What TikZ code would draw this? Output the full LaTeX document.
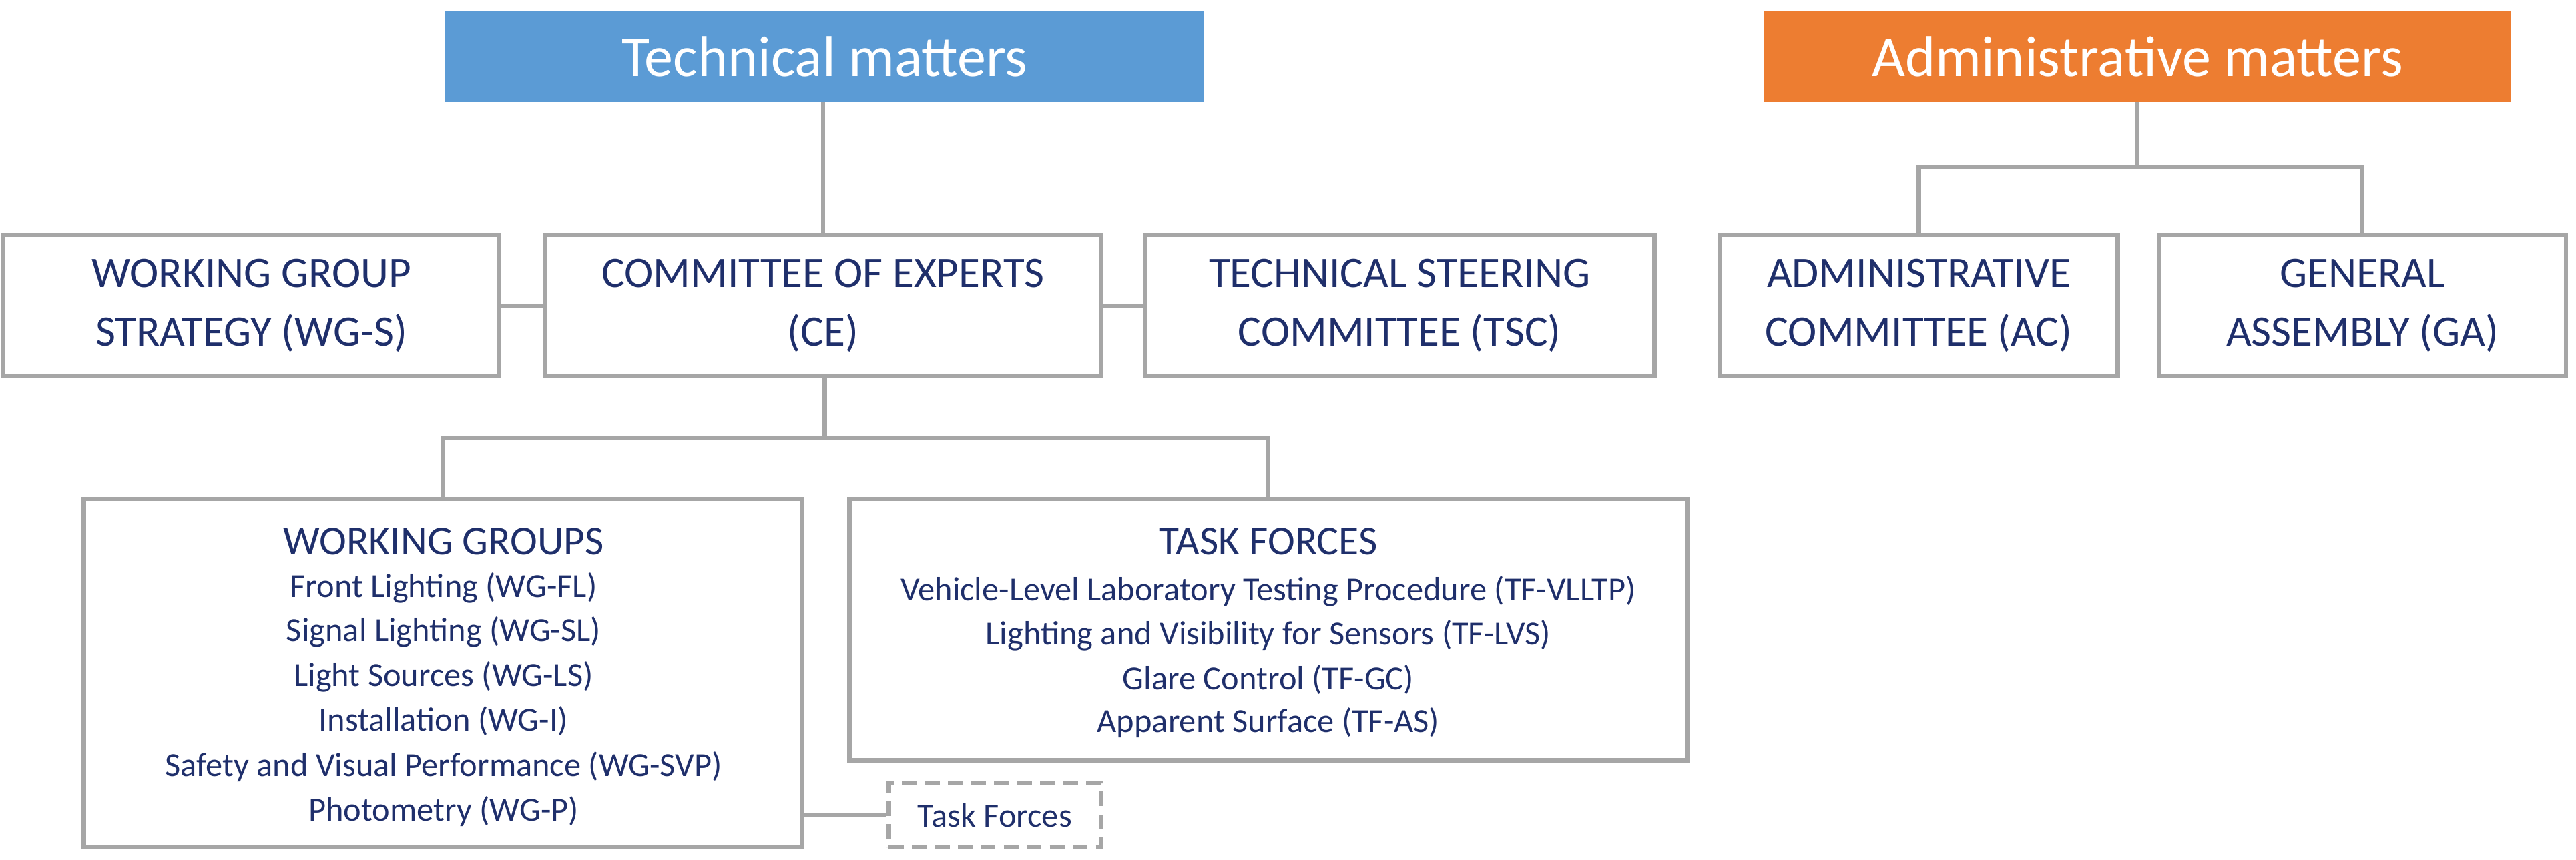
\documentclass[tikz,border=0pt]{standalone}
\usepackage{fontspec}
\setmainfont{Carlito}
\definecolor{navy}{HTML}{1F2F6B}
\definecolor{bx}{HTML}{A6A6A6}
\definecolor{tblue}{HTML}{5B9BD5}
\definecolor{torange}{HTML}{ED7D31}
\begin{document}
\begin{tikzpicture}[x=1pt,y=-1pt,
 box/.style={draw=bx,line width=2.6pt,inner sep=0pt,font=\fontsize{26.5}{36}\selectfont,text=navy,align=center},
 head/.style={inner sep=0pt,font=\fontsize{35}{40}\selectfont,text=white},
 conn/.style={draw=bx,line width=2.6pt},
 ln/.style={font=\fontsize{20.5}{22}\selectfont,text=navy,inner sep=0pt,anchor=center}]
\useasboundingbox (0,0) rectangle (1568,523.4);
\node[head,fill=tblue,minimum width=462pt,minimum height=55pt] (tech) at (502,34.5) {Technical matters};
\node[head,fill=torange,minimum width=454pt,minimum height=55pt] (adm) at (1301,34.5) {Administrative matters};
\node[box,minimum width=302pt,minimum height=86pt] (wgs) at (153,186) {WORKING GROUP\\STRATEGY (WG-S)};
\node[box,minimum width=338pt,minimum height=86pt] (ce) at (501,186) {COMMITTEE OF EXPERTS\\(CE)};
\node[box,minimum width=310pt,minimum height=86pt] (tsc) at (852,186) {TECHNICAL STEERING\\COMMITTEE (TSC)};
\node[box,minimum width=242pt,minimum height=86pt] (ac) at (1168,186) {ADMINISTRATIVE\\COMMITTEE (AC)};
\node[box,minimum width=248pt,minimum height=86pt] (ga) at (1438,186) {GENERAL\\ASSEMBLY (GA)};
\node[box,minimum width=437pt,minimum height=212pt] (wg) at (269.5,410) {};
\node[box,minimum width=510pt,minimum height=159pt] (tf) at (772,383.5) {};
\node[box,dash pattern=on 9pt off 5pt,minimum width=129pt,minimum height=39pt,font=\fontsize{20.5}{22}\selectfont] (tfs) at (605.5,496.5) {Task Forces};
% WG texts
\node[ln,font=\fontsize{25}{28}\selectfont] (wg0) at (270,330) {WORKING GROUPS};
\node[ln] (wg1) at (270,358) {Front Lighting (WG-FL)};
\node[ln] (wg2) at (270,385) {Signal Lighting (WG-SL)};
\node[ln] (wg3) at (270,412) {Light Sources (WG-LS)};
\node[ln] (wg4) at (270,439) {Installation (WG-I)};
\node[ln] (wg5) at (270,467) {Safety and Visual Performance (WG-SVP)};
\node[ln] (wg6) at (270,494) {Photometry (WG-P)};
\node[ln,font=\fontsize{25}{28}\selectfont] (tf0) at (772,330) {TASK FORCES};
\node[ln] (tf1) at (772,360) {Vehicle-Level Laboratory Testing Procedure (TF-VLLTP)};
\node[ln] (tf2) at (772,387) {Lighting and Visibility for Sensors (TF-LVS)};
\node[ln] (tf3) at (772,414) {Glare Control (TF-GC)};
\node[ln] (tf4) at (772,440) {Apparent Surface (TF-AS)};
% connectors
\draw[conn] (tech.south -| ce.north) -- (ce.north);
\draw[conn] (wgs.east) -- (ce.west);
\draw[conn] (ce.east) -- (tsc.east -| tsc.west);
\coordinate (a1) at (1301,102);
\draw[conn] (adm.south) -- (a1);
\draw[conn] (ac.north) |- (a1) -| (ga.north);
\coordinate (c1) at (502,267);
\draw[conn] (ce.south -| c1) -- (c1);
\draw[conn] (wg.north) |- (c1) -| (tf.north);
\draw[conn] (wg.east |- tfs.west) -- (tfs.west);
\end{tikzpicture}
\end{document}
